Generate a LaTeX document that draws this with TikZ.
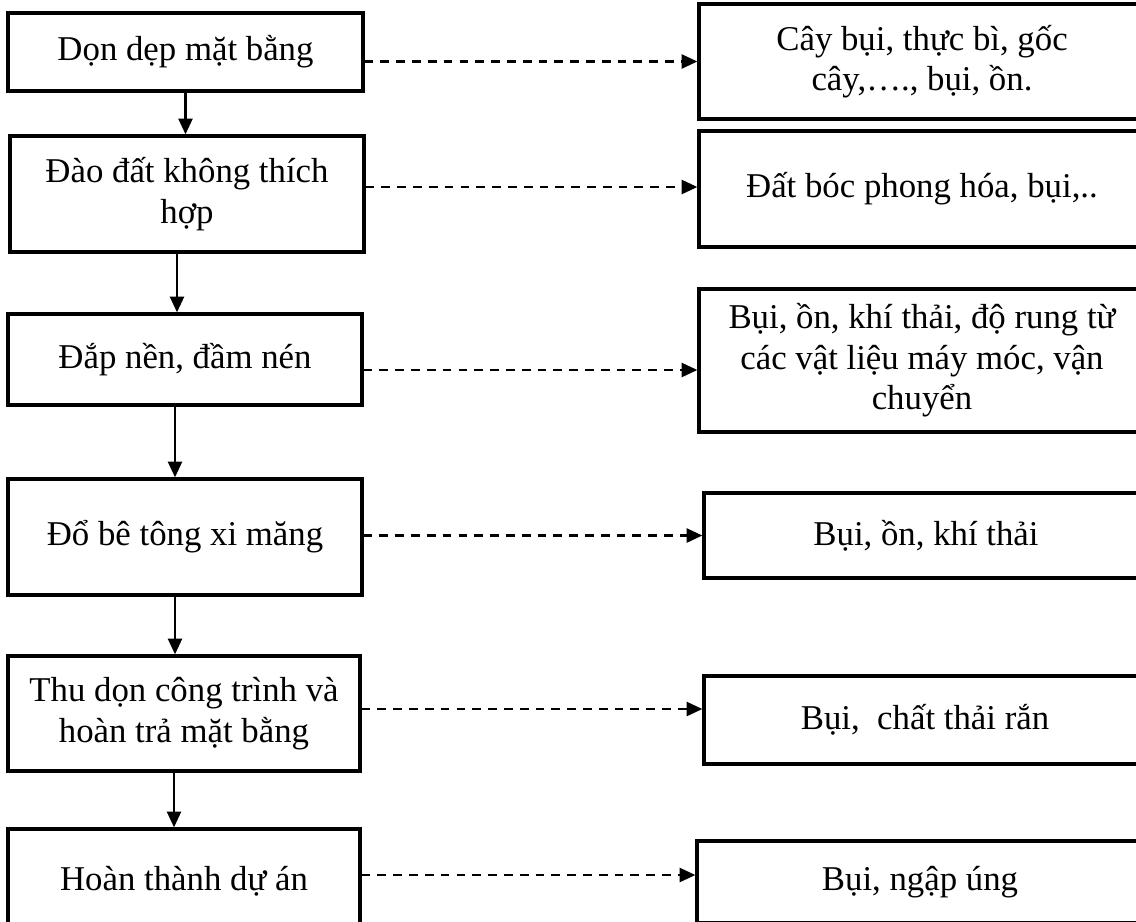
\documentclass[tikz,border=0pt]{standalone}
\usepackage{fontspec}
\setmainfont{Liberation Serif}
\usetikzlibrary{positioning,arrows.meta}
\tikzset{
  box/.style={draw, line width=1.9pt, align=center, inner sep=0pt},
  flow/.style={line width=1.4pt, -{Triangle[length=9pt,width=8pt]}},
  effect/.style={line width=1.4pt, dash pattern=on 5pt off 4pt, -{Triangle[length=9pt,width=8pt]}}}
\tikzstyle{every node}=[font=\fontsize{19.8}{23}\selectfont]

\begin{document}
\begin{tikzpicture}[x=0.02cm,y=-0.02cm]
        \useasboundingbox (0,0) rectangle (1136,921);
        \clip (0,0) rectangle (1136,921);
        % steps
        \node[box, minimum width=7.1cm, minimum height=1.56cm] (L1) at (185.5,52) {Dọn dẹp mặt bằng};
        \node[box, minimum width=7.08cm, minimum height=2.32cm] (L2) at (187,194) {Đào đất không thích\\hợp};
        \node[box, minimum width=7.08cm, minimum height=1.82cm] (L3) at (185,359.5) {Đắp nền, đầm nén};
        \node[box, minimum width=7.08cm, minimum height=2.32cm] (L4) at (185,537) {Đổ bê tông xi măng};
        \node[box, minimum width=7.04cm, minimum height=2.3cm] (L5) at (184,713.5) {Thu dọn công trình và\\hoàn trả mặt bằng};
        \node[box, minimum width=7.04cm, minimum height=2.08cm] (L6) at (184,881) {Hoàn thành dự án};
        % impacts
        \node[box, minimum width=8.92cm, minimum height=2.3cm] (R1) at (922,61.5) {Cây bụi, thực bì, gốc\\cây,…., bụi, ồn.};
        \node[box, minimum width=8.92cm, minimum height=2.32cm] (R2) at (922,189) {Đất bóc phong hóa, bụi,..};
        \node[box, minimum width=8.92cm, minimum height=2.86cm] (R3) at (922,360.5) {Bụi, ồn, khí thải, độ rung từ\\các vật liệu máy móc, vận\\chuyển};
        \node[box, minimum width=8.88cm, minimum height=1.7cm] (R4) at (926,535.5) {Bụi, ồn, khí thải};
        \node[box, minimum width=8.84cm, minimum height=1.76cm] (R5) at (925,720) {Bụi,~ chất thải rắn};
        \node[box, minimum width=8.92cm, minimum height=1.64cm] (R6) at (920,882) {Bụi, ngập úng};
        % arrows
        \draw[flow] (L1.south) -- (L1.south |- L2.north);
        \foreach \a/\b in {2/3,3/4,4/5,5/6}
            \draw[flow] ([xshift=-0.2cm]L\a.south) -- ([xshift=-0.2cm]L\a.south |- L\b.north);
        \foreach \i/\s in {1/0,2/0.04,3/-0.19,4/0,5/0.22,6/0.14} {
            \coordinate (e\i) at ([yshift=\s cm]R\i.west);
            \draw[effect] (L\i.east |- e\i) -- (e\i);
        }
    \end{tikzpicture}
\end{document}
